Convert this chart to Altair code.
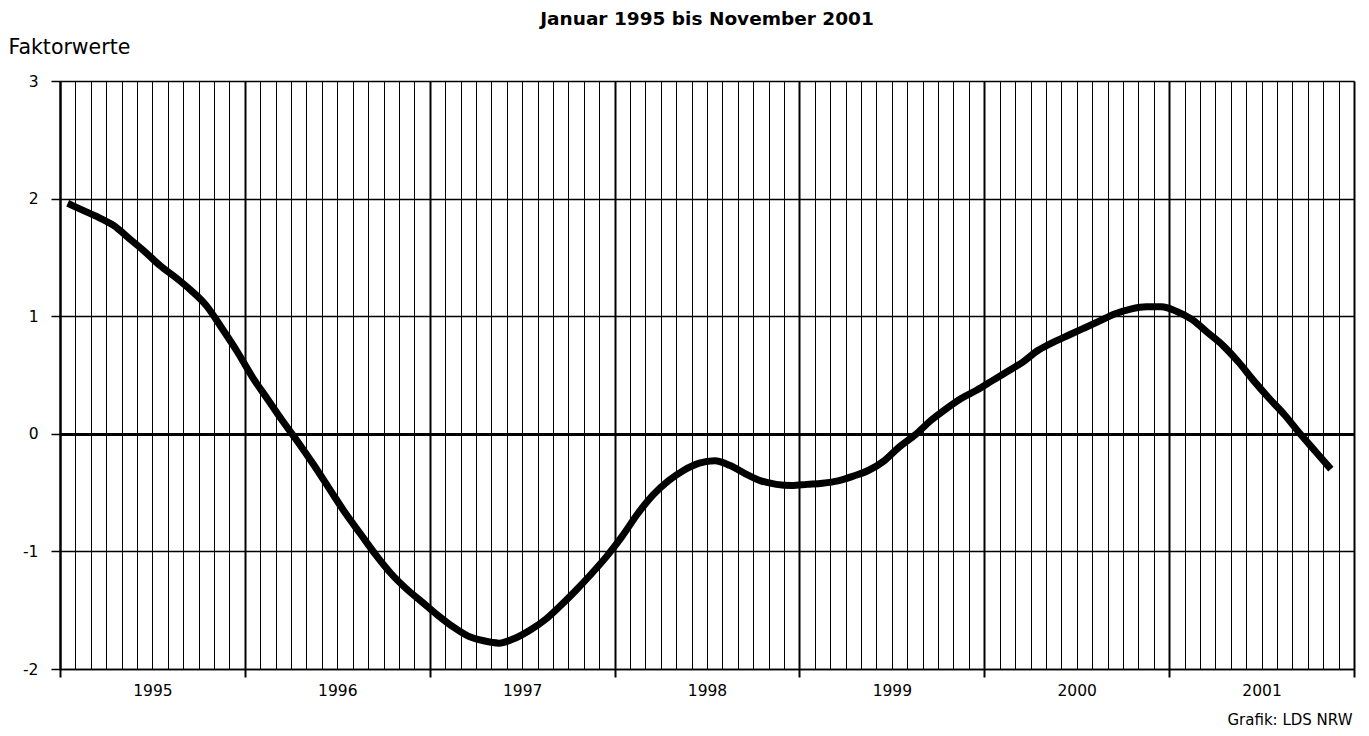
import altair as alt
import pandas as pd

title_text = "Januar 1995 bis November 2001"
y_title = "Faktorwerte"
source_note = "Grafik: LDS NRW"
years = [1995, 1996, 1997, 1998, 1999, 2000, 2001]
y_ticks = [-2, -1, 0, 1, 2, 3]

# monthly factor values, Jan 1995 .. Nov 2001
values = [
    1.96, 1.90, 1.84, 1.77, 1.66, 1.55, 1.43, 1.33, 1.22, 1.09, 0.90, 0.70,      # 1995
    0.48, 0.29, 0.10, -0.08, -0.27, -0.47, -0.67, -0.85, -1.03, -1.19, -1.32, -1.43,  # 1996
    -1.54, -1.64, -1.72, -1.76, -1.78, -1.74, -1.67, -1.58, -1.46, -1.33, -1.19, -1.04,  # 1997
    -0.87, -0.68, -0.52, -0.40, -0.31, -0.25, -0.23, -0.27, -0.34, -0.40, -0.43, -0.44,  # 1998
    -0.43, -0.42, -0.40, -0.36, -0.31, -0.23, -0.11, -0.01, 0.11, 0.21, 0.30, 0.37,  # 1999
    0.45, 0.53, 0.61, 0.71, 0.78, 0.84, 0.90, 0.96, 1.02, 1.06, 1.08, 1.08,      # 2000
    1.04, 0.97, 0.86, 0.75, 0.61, 0.45, 0.30, 0.16, 0.00, -0.15, -0.30,          # 2001
]
month_index = list(range(len(values)))
n_months_axis = len(years) * 12

df = pd.DataFrame({"m": [i + 0.5 for i in month_index], "v": values})

FONT = "DejaVu Sans"

x_axis = alt.Axis(
    values=list(range(0, n_months_axis + 1)),
    grid=True,
    gridColor="black",
    gridWidth=alt.ExprRef(expr="datum.value % 12 == 0 ? 2 : 1"),
    gridOpacity=1,
    domain=True,
    domainColor="black",
    domainWidth=1.5,
    ticks=True,
    tickColor="black",
    tickSize=8,
    tickWidth=alt.ExprRef(expr="datum.value % 12 == 0 ? 2 : 1"),
    tickOpacity=alt.ExprRef(expr="datum.value % 12 == 0 ? 1 : 0"),
    labelExpr=f"datum.value % 12 == 6 ? toString({years[0]} + floor(datum.value / 12)) : ''",
    labelFont=FONT,
    labelFontSize=15.5,
    labelColor="black",
    labelPadding=6,
    labelOverlap=False,
    labelFlush=False,
    title=source_note,
    titleFont=FONT,
    titleFontSize=15,
    titleFontWeight="normal",
    titleColor="black",
    titleAlign="right",
    titleBaseline="alphabetic",
    titleAnchor="end",
    titleX=1292,
    titleY=55,
)

y_axis = alt.Axis(
    values=y_ticks,
    grid=True,
    gridColor="black",
    gridWidth=alt.ExprRef(expr="datum.value == 0 ? 3 : 1.5"),
    gridOpacity=1,
    domain=True,
    domainColor="black",
    domainWidth=2,
    tickColor="black",
    tickSize=9,
    tickWidth=1.5,
    labelExpr="toString(datum.value)",
    labelFont=FONT,
    labelFontSize=15.5,
    labelColor="black",
    labelPadding=13,
    title=y_title,
    titleFont=FONT,
    titleFontSize=20.5,
    titleFontWeight="normal",
    titleColor="black",
    titleAngle=0,
    titleAlign="left",
    titleBaseline="alphabetic",
    titleX=-52,
    titleY=-28,
)

chart = (
    alt.Chart(df)
    .mark_line(color="black", strokeWidth=7, interpolate="monotone")
    .encode(
        x=alt.X("m:Q", scale=alt.Scale(domain=[0, n_months_axis], nice=False, zero=False), axis=x_axis),
        y=alt.Y("v:Q", scale=alt.Scale(domain=[y_ticks[0], y_ticks[-1]], nice=False), axis=y_axis),
    )
    .properties(
        width=1294,
        height=588,
        autosize=alt.AutoSizeParams(type="none"),
        padding={"left": 52, "top": 73, "right": 7, "bottom": 60},
        title=alt.TitleParams(
            text=title_text,
            font=FONT,
            fontSize=18.5,
            fontWeight="bold",
            color="black",
            anchor="middle",
            baseline="alphabetic",
            offset=10,
            dy=16,
        ),
    )
    .configure_view(stroke=None)
    .configure(background="white")
)

chart.save("out.html", embed_options={"renderer": "svg", "actions": False})
